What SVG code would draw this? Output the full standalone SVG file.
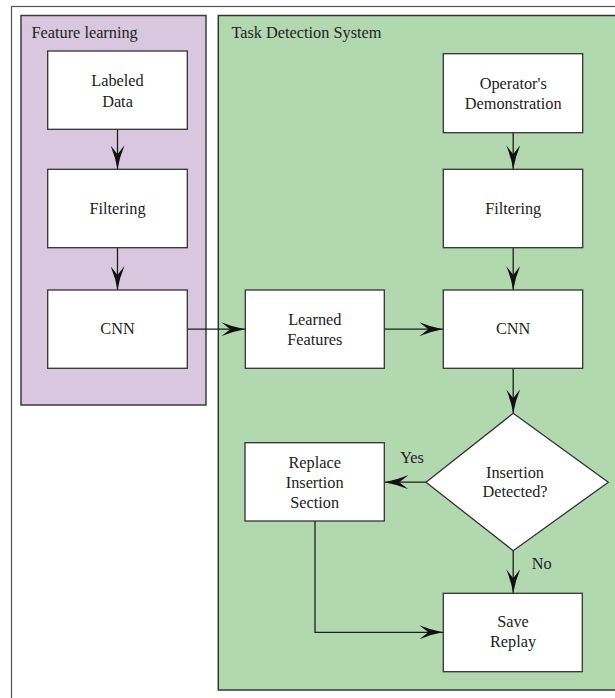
<svg xmlns="http://www.w3.org/2000/svg" width="615" height="698" viewBox="0 0 615 698">
  <style>
    .frame { fill: #ffffff; stroke: #555555; stroke-width: 1.2; }
    .panel-purple { fill: #d9c7df; stroke: #3c3c3c; stroke-width: 1.5; }
    .panel-green { fill: #b2d8b0; stroke: #2f3a2f; stroke-width: 1.5; }
    .box { fill: #ffffff; stroke: #333333; stroke-width: 1.3; }
    .title { font-family: 'Liberation Serif', 'DejaVu Serif', serif; font-size: 16.3px; fill: #222222; }
    .label { font-family: 'Liberation Serif', 'DejaVu Serif', serif; font-size: 16.3px; fill: #222222; text-anchor: middle; }
    .wire { fill: none; stroke: #1e1e1e; stroke-width: 1.3; marker-end: url(#arrow); }
  </style>
  <defs>
    <marker id="arrow" markerUnits="userSpaceOnUse" markerWidth="24" markerHeight="14" refX="24" refY="7" orient="auto">
      <path d="M0,0 Q12,5 24,7 Q12,9 0,14 L9,7 Z" fill="#111111"/>
    </marker>
  </defs>

  <!-- outer frame -->
  <rect class="frame" x="11.5" y="6.5" width="620" height="700"/>

  <!-- containers -->
  <g id="feature-learning">
    <rect class="panel-purple" x="21" y="15.5" width="185" height="389.5"/>
    <text class="title" x="31.5" y="37.5">Feature learning</text>
  </g>
  <g id="task-detection-system">
    <rect class="panel-green" x="218.3" y="15.5" width="420" height="674.5"/>
    <text class="title" x="231.5" y="37.5">Task Detection System</text>
  </g>

  <!-- connectors -->
  <g id="connectors">
    <path class="wire" d="M117.5,129.3 V169.3"/>
    <path class="wire" d="M117.5,247.7 V290"/>
    <path class="wire" d="M187.3,329.2 H245.3"/>
    <path class="wire" d="M384.3,329.2 H443.3"/>
    <path class="wire" d="M513.2,132.7 V169.3"/>
    <path class="wire" d="M513.2,247.7 V290"/>
    <path class="wire" d="M513.2,368.3 V413.3"/>
    <path class="wire" d="M426,482.2 H384.3"/>
    <path class="wire" d="M513.2,550.7 V593.3"/>
    <path class="wire" d="M315,521 V632.3 H443.3"/>
    <text class="label" x="412" y="463.3">Yes</text>
    <text class="label" x="541.7" y="568.5">No</text>
  </g>

  <!-- feature learning column -->
  <g id="labeled-data">
    <rect class="box" x="47.7" y="51" width="139.6" height="78.3"/>
    <text class="label" x="117.5" y="86">Labeled</text>
    <text class="label" x="117.5" y="106.5">Data</text>
  </g>
  <g id="filtering-left">
    <rect class="box" x="47.7" y="169.3" width="139.6" height="78.4"/>
    <text class="label" x="117.5" y="213.5">Filtering</text>
  </g>
  <g id="cnn-left">
    <rect class="box" x="47.7" y="290" width="139.6" height="78.3"/>
    <text class="label" x="117.5" y="333.5">CNN</text>
  </g>

  <!-- task detection column -->
  <g id="learned-features">
    <rect class="box" x="245.3" y="290" width="139" height="78.3"/>
    <text class="label" x="314.8" y="325">Learned</text>
    <text class="label" x="314.8" y="345">Features</text>
  </g>
  <g id="operators-demonstration">
    <rect class="box" x="443.3" y="53.7" width="139.4" height="79"/>
    <text class="label" x="513.2" y="89.3">Operator's</text>
    <text class="label" x="513.2" y="109.3">Demonstration</text>
  </g>
  <g id="filtering-right">
    <rect class="box" x="443.3" y="169.3" width="139.4" height="78.4"/>
    <text class="label" x="513.2" y="213.5">Filtering</text>
  </g>
  <g id="cnn-right">
    <rect class="box" x="443.3" y="290" width="139.4" height="78.3"/>
    <text class="label" x="513.2" y="333.5">CNN</text>
  </g>
  <g id="insertion-detected">
    <polygon class="box" points="513.2,413.3 608.3,482.2 513.2,550.7 426,482.2"/>
    <text class="label" x="515" y="477.7">Insertion</text>
    <text class="label" x="515" y="497.3">Detected?</text>
  </g>
  <g id="replace-insertion-section">
    <rect class="box" x="245" y="442.7" width="139.3" height="78.3"/>
    <text class="label" x="314.7" y="468.3">Replace</text>
    <text class="label" x="314.7" y="488.3">Insertion</text>
    <text class="label" x="314.7" y="508.3">Section</text>
  </g>
  <g id="save-replay">
    <rect class="box" x="443.3" y="593.3" width="139" height="78.4"/>
    <text class="label" x="513" y="626.7">Save</text>
    <text class="label" x="513" y="646.7">Replay</text>
  </g>
</svg>
